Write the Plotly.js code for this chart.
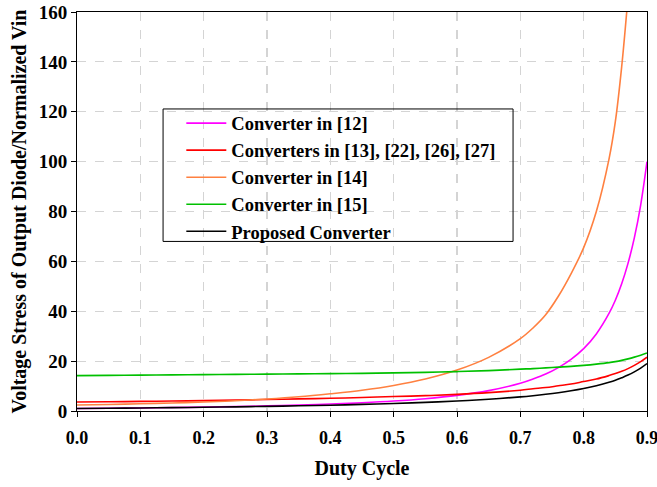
<!DOCTYPE html>
<html>
<head>
<meta charset="utf-8">
<script src="https://cdn.plot.ly/plotly-3.0.1.min.js"></script>
<style>html,body{margin:0;padding:0;background:#fff;}#chart{width:657px;height:487px;}</style>
</head>
<body>
<div id="chart"></div>
<script>
// Duty cycle values
const duty = [0, 0.05, 0.1, 0.15, 0.2, 0.25, 0.3, 0.35, 0.4, 0.45, 0.5, 0.55, 0.6, 0.65, 0.7, 0.72, 0.74, 0.76, 0.78, 0.8, 0.82, 0.84, 0.85, 0.86, 0.87, 0.88, 0.89, 0.9];
const dutyOrange = [0, 0.05, 0.1, 0.15, 0.2, 0.25, 0.3, 0.35, 0.4, 0.45, 0.5, 0.55, 0.6, 0.65, 0.7, 0.72, 0.74, 0.76, 0.78, 0.8, 0.82, 0.84, 0.85, 0.86, 0.87];

const conv12 = [1.0, 1.11, 1.23, 1.38, 1.56, 1.78, 2.04, 2.37, 2.78, 3.31, 4.0, 4.94, 6.25, 8.16, 11.1, 12.8, 14.8, 17.4, 20.7, 25.0, 30.9, 39.1, 44.4, 51.0, 59.2, 69.4, 82.6, 100.0];
const conv13 = [3.6, 3.71, 3.85, 4.0, 4.15, 4.35, 4.6, 4.85, 5.1, 5.4, 5.8, 6.15, 6.65, 7.35, 8.35, 8.9, 9.4, 10.1, 10.8, 11.8, 12.8, 14.2, 15.0, 15.9, 17.0, 18.3, 19.8, 21.6];
const conv14 = [2.4, 2.6, 2.9, 3.2, 3.6, 4.1, 4.8, 5.7, 6.9, 8.3, 10.2, 12.8, 16.4, 21.5, 29.0, 33.3, 38.6, 46.0, 55.0, 65.5, 80.0, 101.0, 116.0, 138.0, 166.0];
const conv15 = [14.2, 14.3, 14.4, 14.5, 14.6, 14.7, 14.8, 14.9, 15.0, 15.1, 15.3, 15.5, 15.8, 16.2, 16.8, 17.0, 17.3, 17.6, 17.9, 18.3, 18.8, 19.4, 19.8, 20.3, 20.9, 21.6, 22.4, 23.3];
const proposed = [1.0, 1.11, 1.22, 1.35, 1.5, 1.67, 1.86, 2.08, 2.33, 2.64, 3.0, 3.44, 4.0, 4.71, 5.67, 6.14, 6.69, 7.33, 8.09, 9.0, 10.1, 11.5, 12.3, 13.3, 14.4, 15.7, 17.2, 19.0];

const names = ["Converter in [12]", "Converters in [13], [22], [26], [27]", "Converter in [14]", "Converter in [15]", "Proposed Converter"];
const colors = ["#ff00ff", "#ff0000", "#ff8040", "#00c000", "#000000"];

const xs = [duty, duty, dutyOrange, duty, duty];
const ys = [conv12, conv13, conv14, conv15, proposed];

const traces = ys.map((y, i) => ({
  x: xs[i], y: y, type: 'scatter', mode: 'lines', name: names[i],
  line: {color: colors[i], width: 1.6, shape: 'spline', smoothing: 1}
}));

const fontFam = "Liberation Serif, Times New Roman, serif";
const layout = {
  width: 657, height: 487,
  margin: {l: 77, r: 10, t: 12, b: 76},
  paper_bgcolor: '#fff', plot_bgcolor: '#fff',
  showlegend: true,
  legend: {
    x: 0.183, y: 0.768, xanchor: 'left', yanchor: 'top',
    bgcolor: 'rgba(0,0,0,0)', borderwidth: 0,
    font: {family: fontFam, size: 18.5, color: '#000', weight: 'bold'},
    tracegroupgap: 0, itemwidth: 40
  },
  shapes: [{
    type: 'rect', xref: 'paper', yref: 'paper', layer: 'above',
    x0: 0.151, x1: 0.765, y0: 0.425, y1: 0.757,
    line: {color: '#000', width: 1}, fillcolor: 'rgba(0,0,0,0)'
  }, {
    type: 'rect', xref: 'paper', yref: 'paper', layer: 'below',
    x0: 0.151, x1: 0.765, y0: 0.425, y1: 0.757,
    line: {width: 0}, fillcolor: '#fff'
  }],
  xaxis: {
    range: [0, 0.9], dtick: 0.1, tick0: 0, tickformat: '.1f',
    showgrid: true, gridcolor: '#d4d4d4', griddash: 'dash', gridwidth: 1.2,
    zeroline: false, showline: true, linecolor: '#000', linewidth: 1, mirror: true,
    ticks: 'outside', ticklen: 5, tickcolor: '#000',
    ticklabeloverflow: 'allow', ticklabelstandoff: 5,
    tickfont: {family: fontFam, size: 18, color: '#000', weight: 'bold'},
    title: {text: 'Duty Cycle', font: {family: fontFam, size: 20, color: '#000', weight: 'bold'}, standoff: 14}
  },
  yaxis: {
    range: [0, 160], dtick: 20, tick0: 0,
    showgrid: true, gridcolor: '#d4d4d4', griddash: 'dash', gridwidth: 1.2,
    zeroline: false, showline: true, linecolor: '#000', linewidth: 1, mirror: true,
    ticks: 'outside', ticklen: 5, tickcolor: '#000',
    tickfont: {family: fontFam, size: 19, color: '#000', weight: 'bold'},
    title: {text: 'Voltage Stress of Output Diode/Normalized Vin', font: {family: fontFam, size: 20, color: '#000', weight: 'bold'}, standoff: 6}
  }
};

Plotly.newPlot('chart', traces, layout, {staticPlot: true, displayModeBar: false});
</script>
</body>
</html>
